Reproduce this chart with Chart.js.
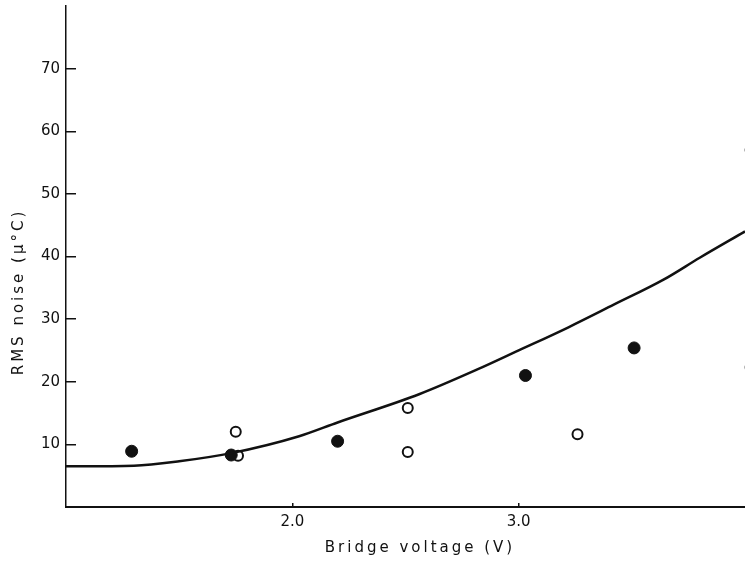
<!DOCTYPE html>
<html lang="en">
<head>
    <meta charset="UTF-8">
    <title>RMS noise vs bridge voltage</title>
    <script src="https://cdn.jsdelivr.net/npm/chart.js"></script>
    <style>
        body {
            margin: 0;
            background: white;
        }
        .wrap {
            width: 745px;
            height: 563px;
        }
    </style>
</head>
<body>
<div class="wrap">
    <canvas id="noiseChart"></canvas>
</div>

<script>
// values
const curveX = [1.0, 1.3, 1.5, 1.73, 2.03, 2.2, 2.56, 2.82, 3.0, 3.22, 3.42, 3.64, 3.8, 4.0];
const curveY = [6.5, 6.6, 7.3, 8.6, 11.3, 13.5, 18.0, 22.0, 25.0, 28.7, 32.3, 36.3, 39.8, 44.0];

const filledX = [1.29, 1.73, 2.2, 3.03, 3.51];
const filledY = [8.9, 8.3, 10.5, 21.0, 25.4];

// last two sit just past the right edge, only a sliver shows
const openX = [1.76, 1.75, 2.51, 2.51, 3.26, 4.025, 4.025];
const openY = [8.2, 12.0, 8.8, 15.8, 11.6, 22.3, 57.0];

const xTicks = [2.0, 3.0];
const yTicks = [10, 20, 30, 40, 50, 60, 70];

const xTitle = 'Bridge voltage (V)';
const yTitle = 'RMS noise (\u03bc\u00b0C)';

const toPoints = (xs, ys) => xs.map((x, i) => ({ x: x, y: ys[i] }));

const ink = '#111';
const tickFont = { family: 'DejaVu Sans', size: 15 };

// axis titles drawn by hand so they sit where the scan has them
const axisTitles = {
    id: 'axisTitles',
    afterDraw(chart) {
        const ctx = chart.ctx;
        ctx.save();
        ctx.fillStyle = ink;
        ctx.font = '15px "DejaVu Sans"';
        ctx.letterSpacing = '3px';
        ctx.textAlign = 'center';
        ctx.textBaseline = 'middle';
        ctx.fillText(xTitle, 420, 548);
        ctx.translate(19, 292);
        ctx.rotate(-Math.PI / 2);
        ctx.fillText(yTitle, 0, 0);
        ctx.restore();
    }
};

// no extra room for tick labels, the plot runs to the edges
function noPadding(scale) {
    scale.paddingTop = 0;
    scale.paddingBottom = 0;
    scale.paddingLeft = 0;
    scale.paddingRight = 0;
}

const ctx = document.getElementById('noiseChart').getContext('2d');

new Chart(ctx, {
    type: 'scatter',
    data: {
        datasets: [
            {
                label: 'fit',
                data: toPoints(curveX, curveY),
                showLine: true,
                borderColor: ink,
                borderWidth: 2.5,
                cubicInterpolationMode: 'monotone',
                pointRadius: 0,
                fill: false
            },
            {
                label: 'filled',
                data: toPoints(filledX, filledY),
                pointStyle: 'circle',
                pointRadius: 6,
                backgroundColor: ink,
                borderColor: ink,
                borderWidth: 1
            },
            {
                label: 'open',
                data: toPoints(openX, openY),
                pointStyle: 'circle',
                pointRadius: 5,
                backgroundColor: 'white',
                borderColor: ink,
                borderWidth: 2
            }
        ]
    },
    options: {
        responsive: true,
        maintainAspectRatio: false,
        animation: false,
        events: [],
        layout: {
            autoPadding: false,
            padding: { top: 6, right: 0, left: 0, bottom: 0 }
        },
        plugins: {
            legend: { display: false },
            tooltip: { enabled: false }
        },
        scales: {
            x: {
                type: 'linear',
                min: 1,
                max: 4,
                afterBuildTicks: scale => { scale.ticks = xTicks.map(v => ({ value: v })); },
                afterFit: scale => { scale.height = 56; noPadding(scale); },
                ticks: {
                    color: ink,
                    font: tickFont,
                    padding: 10,
                    callback: v => v.toFixed(1)
                },
                grid: {
                    drawOnChartArea: false,
                    tickLength: -4,
                    color: ink,
                    lineWidth: 1.5
                },
                border: { color: ink, width: 2 }
            },
            y: {
                min: 0,
                max: 80,
                afterBuildTicks: scale => { scale.ticks = yTicks.map(v => ({ value: v })); },
                afterFit: scale => { scale.width = 66; noPadding(scale); },
                ticks: {
                    color: ink,
                    font: tickFont,
                    padding: 16
                },
                grid: {
                    drawOnChartArea: false,
                    tickLength: -10,
                    color: ink,
                    lineWidth: 1.5
                },
                border: { color: ink, width: 1.5, dash: [2, 3] }
            }
        }
    },
    plugins: [axisTitles]
});
</script>

</body>
</html>
